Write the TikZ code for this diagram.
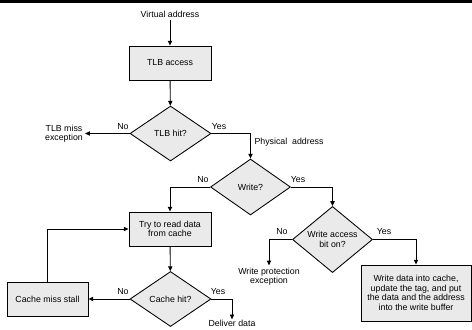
\documentclass[tikz,border=0pt]{standalone}
\usepackage{fontspec}
\setmainfont{Liberation Sans}
\usetikzlibrary{arrows.meta,shapes.geometric}
\definecolor{boxgray}{RGB}{234,234,234}

\begin{document}
\begin{tikzpicture}[
  x=0.75pt, y=-0.75pt,
  font=\fontsize{6.6}{7.1}\selectfont,
  box/.style={draw, line width=0.65pt, fill=boxgray, align=center, inner sep=1pt},
  test/.style={draw, line width=0.65pt, fill=boxgray, diamond, align=center, inner sep=0pt, minimum width=60.75pt, minimum height=41.25pt},
  note/.style={align=center, inner sep=1.5pt},
  arr/.style={-{Triangle[length=3.6pt,width=3.2pt]}, line width=0.65pt},
]
\clip (0,0) rectangle (472,329);
\fill[black] (0,0) rectangle (472,3);

\node[note] (va) at (170,14.5) {Virtual address};
\node[box, minimum width=61.5pt, minimum height=25.5pt] (tlb) at (170,63) {TLB access};
\node[test] (hit) at (170.5,133.5) {TLB hit?};
\node[note] (miss) at (64,133.5) {TLB miss\\exception};
\node[test, minimum width=60pt, minimum height=42pt] (write) at (250.5,187) {Write?};
\node[test, minimum width=60pt] (acc) at (332.5,239.5) {Write access\\bit on?};
\node[note] (prot) at (269,276.5) {Write protection\\exception};
\node[box, minimum width=82.5pt, minimum height=42pt] (wbuf) at (416,293) {Write data into cache,\\update the tag, and put\\the data and the address\\into the write buffer};
\node[box, minimum width=61.5pt, minimum height=25.5pt] (read) at (170,229) {Try to read data\\from cache};
\node[test] (chit) at (170.5,299) {Cache hit?};
\node[box, minimum width=60.75pt, minimum height=25.5pt] (stall) at (47.5,299) {Cache miss stall};
\node[note, inner sep=0.5pt] (deliver) at (232,323.5) {Deliver data};

\draw[arr] (va) -- (tlb);
\draw[arr] (tlb) -- (hit);
\draw[arr] (hit.west) -- (miss);
\draw[arr] (hit.east) -| (write.north);
\draw[arr] (write.west) -| (read.north);
\draw[arr] (write.east) -| (acc.north);
\draw[arr] (acc.west) -| (prot.north);
\draw[arr] (acc.east) -| (wbuf.north);
\draw[arr] (read) -- (chit);
\draw[arr] (chit.west) -- (stall.east);
\draw[arr] (stall.north) |- (read.west);
\draw[arr] (chit.east) -| (deliver.north);

% Yes / No labels
\node at (123,126.5) {No};
\node at (219,126.5) {Yes};
\node at (289,142) {Physical\ \ address};
\node at (203,179.5) {No};
\node at (298,179.5) {Yes};
\node at (282,232) {No};
\node at (384,232) {Yes};
\node at (123,291.5) {No};
\node at (218,291.5) {Yes};
\end{tikzpicture}
\end{document}
